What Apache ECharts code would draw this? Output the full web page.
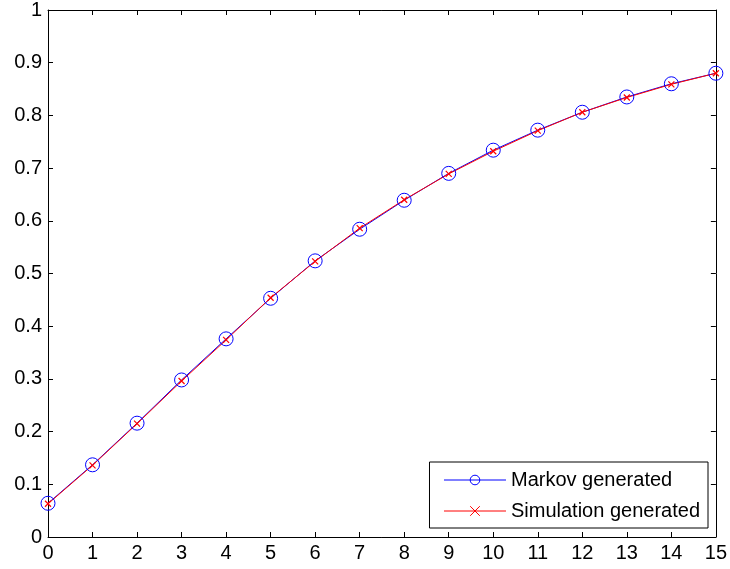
<!DOCTYPE html>
<html><head><meta charset="utf-8">
<script src="https://cdn.jsdelivr.net/npm/echarts@6/dist/echarts.min.js"></script>
<style>html,body{margin:0;padding:0;background:#fff}#c{width:730px;height:569px}</style>
</head><body><div id="c"></div>
<script>
var xValues = [0,1,2,3,4,5,6,7,8,9,10,11,12,13,14,15];
var markov = [0.064,0.137,0.216,0.298,0.376,0.453,0.524,0.584,0.639,0.690,0.734,0.772,0.806,0.835,0.860,0.880];
var simulation = [0.063,0.136,0.215,0.296,0.374,0.454,0.523,0.586,0.640,0.689,0.732,0.771,0.806,0.834,0.859,0.880];
var seriesNames = ['Markov generated','Simulation generated'];

var font = 'Liberation Sans, Arial, sans-serif';
var chart = echarts.init(document.getElementById('c'));
function pairs(v){ return xValues.map(function(x,i){ return [x, v[i]]; }); }
var axisLine = {show:true, onZero:false, lineStyle:{color:'#000', width:1}};
var tick = {show:true, inside:true, length:5, lineStyle:{color:'#000'}};
chart.setOption({
  animation:false,
  grid:{left:48, right:13, top:10, bottom:32},
  xAxis:[
    {type:'value', min:0, max:15, interval:1, axisLine:axisLine, axisTick:tick,
     splitLine:{show:false}, axisLabel:{color:'#000', fontFamily:font, fontSize:20, margin:6}},
    {type:'value', position:'top', min:0, max:15, interval:1, axisLine:axisLine, axisTick:tick,
     splitLine:{show:false}, axisLabel:{show:false}}
  ],
  yAxis:[
    {type:'value', min:0, max:1, interval:0.1, axisLine:axisLine, axisTick:tick,
     splitLine:{show:false}, axisLabel:{color:'#000', fontFamily:font, fontSize:20, margin:6,
       formatter:function(v){ return String(Math.round(v*10)/10); }}},
    {type:'value', position:'right', min:0, max:1, interval:0.1, axisLine:axisLine, axisTick:tick,
     splitLine:{show:false}, axisLabel:{show:false}}
  ],
  legend:{
    right:22, bottom:41, orient:'vertical', itemWidth:62, itemHeight:12, itemGap:11,
    padding:[8,8,7,14], borderColor:'#000', borderWidth:1, backgroundColor:'#fff',
    lineStyle:{width:1, opacity:1},
    itemStyle:{borderWidth:1},
    textStyle:{color:'#000', fontFamily:font, fontSize:20},
    data:seriesNames
  },
  series:[
    {name:seriesNames[0], type:'line', data:pairs(markov), symbol:'circle', symbolSize:14,
     showAllSymbol:true,
     lineStyle:{color:'#0000ff', width:1}, itemStyle:{color:'none', borderColor:'#0000ff', borderWidth:1}},
    {name:seriesNames[1], type:'line', data:pairs(simulation),
     symbol:'path://M0,0L10,10M10,0L0,10', symbolSize:6, showAllSymbol:true,
     lineStyle:{color:'#ff0000', width:1}, itemStyle:{color:'none', borderColor:'#ff0000', borderWidth:1.2}}
  ]
});
</script></body></html>
